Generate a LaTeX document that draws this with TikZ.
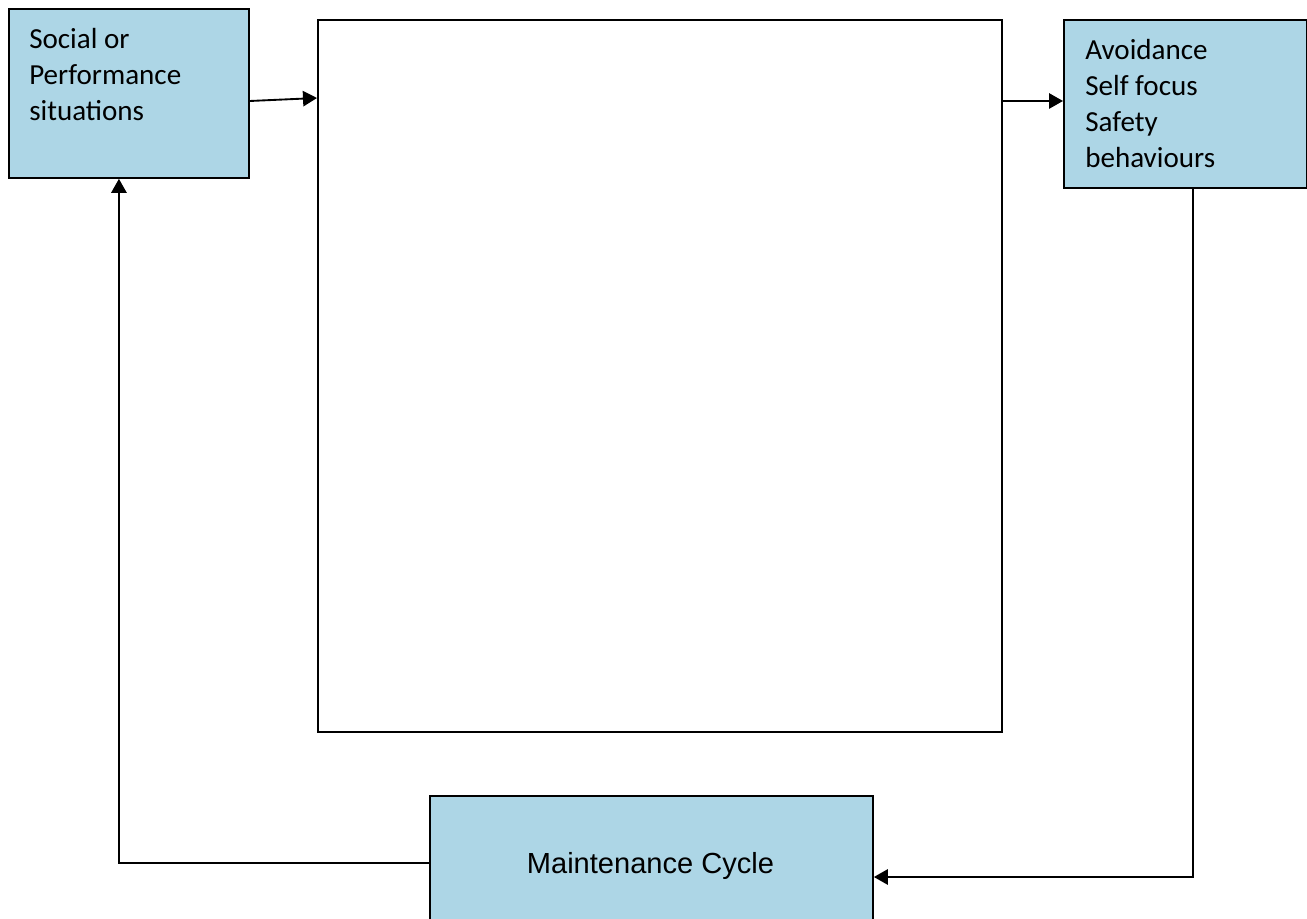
\documentclass[tikz,border=0pt]{standalone}
\usepackage{fontspec}
\setmainfont{Carlito}
\newfontfamily\arialfont{Liberation Sans}
\usetikzlibrary{arrows.meta}
\usetikzlibrary{calc}
\definecolor{boxblue}{RGB}{173,214,230}

\begin{document}
\begin{tikzpicture}[x=0.75pt,y=-0.75pt,
    box/.style={draw=black,line width=1.4pt,fill=boxblue,inner sep=0pt,anchor=north west},
    boxtext/.style={anchor=north west,inner sep=0pt,align=left,font=\fontsize{21.8}{27}\selectfont},
    link/.style={draw=black,line width=1.4pt,-{Triangle[length=10.5pt,width=11.5pt]}}]
            \useasboundingbox (0,0) rectangle (1307,919);
            \node[box,minimum width=180pt,minimum height=126.75pt] (social) at (8,8) {};
            \node[box,fill=white,minimum width=513pt,minimum height=534pt] (model) at (317,19) {};
            \node[box,minimum width=182.25pt,minimum height=126pt] (safety) at (1063,19) {};
            \node[box,minimum width=332.25pt,minimum height=112.5pt] (cycle) at (429,795) {};
            \node[boxtext] (socialtext) at ($(social.north west)+(21,20)$) {Social or\\Performance\\situations};
            \node[boxtext] (safetytext) at ($(safety.north west)+(22,20)$) {Avoidance\\Self focus\\Safety\\behaviours};
            \node[anchor=base,inner sep=0pt,font=\arialfont\fontsize{21.8}{26}\selectfont] (cycletext) at (650.5,873) {Maintenance Cycle};
            \draw[link] ($(social.north east)+(0,93)$) -- ($(model.north west)+(0,79)$);
            \draw[link] ($(model.north east)+(0,82)$) -- ($(safety.north west)+(0,82)$);
            \draw[link] ($(safety.south)+(7.5,0)$) |- ($(cycle.north east)+(0,82)$);
            \draw[link] ($(cycle.north west)+(0,68)$) -| ($(social.south)+(-10,0)$);
        \end{tikzpicture}
\end{document}
